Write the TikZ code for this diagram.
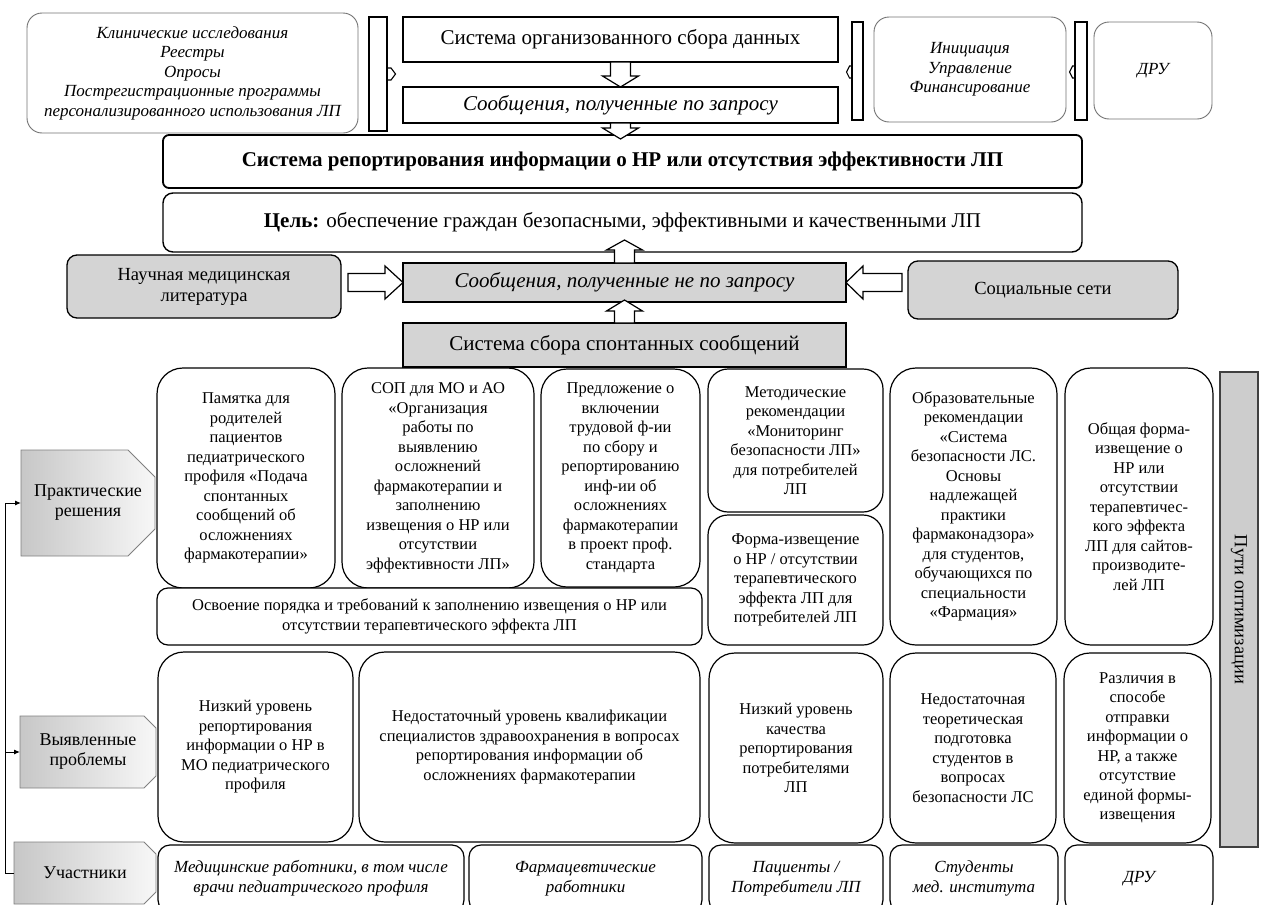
\documentclass[tikz,border=0pt]{standalone}
\usepackage{fontspec}
\setmainfont{Liberation Serif}
\usetikzlibrary{calc,arrows.meta,backgrounds}
\definecolor{boxgray}{HTML}{D4D4D4}
\definecolor{bargray}{HTML}{CDCDCD}
\newcommand\myfbig{\fontsize{21}{25}\selectfont}
\newcommand\myftop{\fontsize{17}{19.5}\selectfont}
\newcommand\myfbody{\fontsize{16.5}{19.5}\selectfont}
\newcommand\myflbl{\fontsize{18}{20}\selectfont}
\newcommand\myfmid{\fontsize{18.5}{21}\selectfont}
\newcommand\myfpart{\fontsize{17}{20}\selectfont}
\newcommand\mkbox[7]{%
  \pgfmathsetmacro\mkw{#5-#3}\pgfmathsetmacro\mkh{#6-#4}%
  \pgfmathsetmacro\mkx{(#3+#5)/2}\pgfmathsetmacro\mky{(#4+#6)/2}%
  \node[#1, minimum width=\mkw pt, minimum height=\mkh pt] (#2) at (\mkx,\mky) {#7};}
% vertical block arrow: #1 base anchor, #2 tip anchor, #3 signed head length
\newcommand\varrow[3]{%
  \draw[blk] let \p1=(#1), \p2=(#2) in
    (\x1-10pt,\y1) -- (\x1-10pt,{\y2+(#3)}) -- (\x1-18pt,{\y2+(#3)}) -- (\x1,\y2)
    -- (\x1+18pt,{\y2+(#3)}) -- (\x1+10pt,{\y2+(#3)}) -- (\x1+10pt,\y1) -- cycle;}
% horizontal block arrow
\newcommand\harrow[3]{%
  \draw[blk] let \p1=(#1), \p2=(#2) in
    (\x1,\y2+9pt) -- ({\x2+(#3)},\y2+9pt) -- ({\x2+(#3)},\y2+16.5pt) -- (\x2,\y2)
    -- ({\x2+(#3)},\y2-16.5pt) -- ({\x2+(#3)},\y2-9pt) -- (\x1,\y2-9pt) -- cycle;}
\begin{document}
\begin{tikzpicture}[x=1pt,y=-1pt,
  base/.style={inner sep=0pt, outer sep=0pt, align=center},
  sq/.style={base, draw, line width=1.6pt, fill=white},
  soft/.style={base, draw=black!55, line width=0.9pt, rounded corners=15pt, fill=white, font=\myftop\itshape},
  gbox/.style={base, draw, line width=1.3pt, fill=boxgray},
  rb/.style={base, draw, line width=1.2pt, fill=white, rounded corners=#1, font=\myfbody},
  rb/.default=26pt,
  pb/.style={base, draw, line width=1.2pt, fill=white, rounded corners=12pt, font=\myfpart\itshape},
  blk/.style={draw, fill=white, line width=1.2pt, line join=miter},
  barbox/.style={base, draw, line width=1.1pt, fill=white},
  bump/.style={line width=1.1pt},
  lblfill/.style={draw=black!50, line width=0.8pt, left color=black!22, right color=black!3},
  lbl/.style={base, font=\myflbl},
  conn/.style={line width=1pt, -{Latex[length=6pt,width=5pt]}},
]
\useasboundingbox (0,0) rectangle (1264,905);

% ---------- top row ----------
\mkbox{soft}{clin}{27}{13}{358}{133}{Клинические исследования\\Реестры\\Опросы\\Пострегистрационные программы\\персонализированного использования ЛП}
\mkbox{barbox}{bar1}{369}{17}{387}{131}{}
\draw[bump] (387,68) -- (391,68) -- (395.5,74) -- (391,80) -- (387,80);
\mkbox{sq,font=\myfbig}{s1}{403}{17}{838}{62}{Система организованного сбора данных}
\mkbox{sq,font=\myfbig\itshape}{s2}{403}{87}{838}{123}{Сообщения, полученные по запросу}
\mkbox{barbox}{bar2}{852}{22}{863}{120}{}
\draw[bump] (852,66) -- (849.5,66) -- (846.5,72) -- (849.5,78) -- (852,78);
\mkbox{soft}{init}{874}{17}{1066}{122}{Инициация\\Управление\\Финансирование}
\mkbox{barbox}{bar3}{1075}{22}{1087}{120}{}
\draw[bump] (1075,66) -- (1072.5,66) -- (1069.5,72) -- (1072.5,78) -- (1075,78);
\mkbox{soft}{dru}{1094}{22}{1212}{119}{ДРУ}

% ---------- central column ----------
\mkbox{base,draw,line width=1.8pt,rounded corners=6pt,fill=white,font=\myfbig\bfseries}{sysrep}{163}{135}{1082}{188}{Система репортирования информации о НР или отсутствия эффективности ЛП}
\mkbox{base,draw,line width=1.4pt,rounded corners=10pt,fill=white,font=\myfbig}{goal}{163}{193}{1082}{252}{\textbf{Цель:} обеспечение граждан безопасными, эффективными и качественными ЛП}
\mkbox{gbox,rounded corners=10pt,font=\myfmid}{nauch}{67}{255}{341}{318}{Научная медицинская\\литература}
\mkbox{gbox,font=\myfbig\itshape}{s3}{403}{263}{846}{302}{Сообщения, полученные не по запросу}
\mkbox{gbox,rounded corners=10pt,font=\myfmid}{soc}{908}{261}{1178}{319}{Социальные сети}
\mkbox{gbox,font=\myfbig}{s4}{403}{323}{846}{367}{Система сбора спонтанных сообщений}

\varrow{s1.south}{s2.north}{11pt}
\varrow{s2.south}{[yshift=-4pt]sysrep.north}{11pt}
\varrow{s3.north}{[yshift=12pt]goal.south}{-10pt}
\varrow{s4.north}{[yshift=2pt]s3.south}{-11pt}
\harrow{[xshift=7pt]nauch.east}{s3.west}{-18pt}
\harrow{[xshift=-6pt]soc.west}{s3.east}{17pt}

% ---------- practical solutions ----------
\mkbox{rb}{pam}{157}{368}{335}{588}{Памятка для\\родителей\\пациентов\\педиатрического\\профиля «Подача\\спонтанных\\сообщений об\\осложнениях\\фармакотерапии»}
\mkbox{rb}{sop}{342}{368}{534}{588}{СОП для МО и АО\\«Организация\\работы по\\выявлению\\осложнений\\фармакотерапии и\\заполнению\\извещения о НР или\\отсутствии\\эффективности ЛП»}
\mkbox{rb}{pred}{541}{369}{700}{587}{Предложение о\\включении\\трудовой ф-ии\\по сбору и\\репортированию\\инф-ии об\\осложнениях\\фармакотерапии\\в проект проф.\\стандарта}
\mkbox{rb=20pt}{met}{708}{369}{883}{512}{Методические\\рекомендации\\«Мониторинг\\безопасности ЛП»\\для потребителей\\ЛП}
\mkbox{rb=20pt}{form}{708}{515}{883}{645}{Форма-извещение\\о НР / отсутствии\\терапевтического\\эффекта ЛП для\\потребителей ЛП}
\mkbox{rb}{obr}{890}{368}{1057}{645}{Образовательные\\рекомендации\\«Система\\безопасности ЛС.\\Основы\\надлежащей\\практики\\фармаконадзора»\\для студентов,\\обучающихся по\\специальности\\«Фармация»}
\mkbox{rb}{obsh}{1065}{368}{1213}{645}{Общая форма-\\извещение о\\НР или\\отсутствии\\терапевтичес-\\кого эффекта\\ЛП для сайтов-\\производите-\\лей ЛП}
\mkbox{rb=11pt}{osv}{157}{588}{702}{645}{Освоение порядка и требований к заполнению извещения о НР или\\отсутствии терапевтического эффекта ЛП}
\mkbox{base,draw=black!75,line width=1.1pt,fill=bargray}{puti}{1220}{372}{1258}{847}{}
\node[font=\myfmid, rotate=-90] (putitxt) at (puti.center) {Пути оптимизации};

% ---------- problems ----------
\mkbox{rb}{p1}{158}{652}{353}{842}{Низкий уровень\\репортирования\\информации о НР в\\МО педиатрического\\профиля}
\mkbox{rb}{p2}{359}{652}{700}{842}{Недостаточный уровень квалификации\\специалистов здравоохранения в вопросах\\репортирования информации об\\осложнениях фармакотерапии}
\mkbox{rb}{p3}{709}{653}{883}{843}{Низкий уровень\\качества\\репортирования\\потребителями\\ЛП}
\mkbox{rb}{p4}{890}{653}{1056}{843}{Недостаточная\\теоретическая\\подготовка\\студентов в\\вопросах\\безопасности ЛС}
\mkbox{rb}{p5}{1064}{653}{1211}{843}{Различия в\\способе\\отправки\\информации о\\НР, а также\\отсутствие\\единой формы-\\извещения}

% ---------- participants ----------
\mkbox{pb}{u1}{158}{845}{464}{912}{Медицинские работники, в том числе\\врачи педиатрического профиля}
\mkbox{pb}{u2}{469}{845}{702}{912}{Фармацевтические\\работники}
\mkbox{pb}{u3}{709}{845}{883}{912}{Пациенты /\\Потребители ЛП}
\mkbox{pb}{u4}{890}{845}{1058}{912}{Студенты\\мед. института}
\mkbox{pb}{u5}{1065}{845}{1213}{912}{ДРУ}

% ---------- row labels ----------
\mkbox{lbl}{prac}{21}{450}{155}{556}{Практические\\решения}
\mkbox{lbl}{vyy}{20}{716}{156}{788}{Выявленные\\проблемы}
\mkbox{lbl}{uch}{14}{842}{156}{904}{Участники}
\begin{scope}[on background layer]
  \foreach \n/\c in {prac/27pt, vyy/12pt, uch/12pt} {
    \path[lblfill] (\n.south west) -- (\n.north west) -- ([xshift=-\c]\n.north east)
      -- ([yshift=-\c]\n.north east) -- ([yshift=\c]\n.south east)
      -- ([xshift=-\c]\n.south east) -- cycle;
  }
\end{scope}
\draw[conn] (uch.west) -- ++(-9,0) coordinate (elb) |- (prac.west);
\draw[conn] (elb) |- (vyy.west);
\end{tikzpicture}
\end{document}
